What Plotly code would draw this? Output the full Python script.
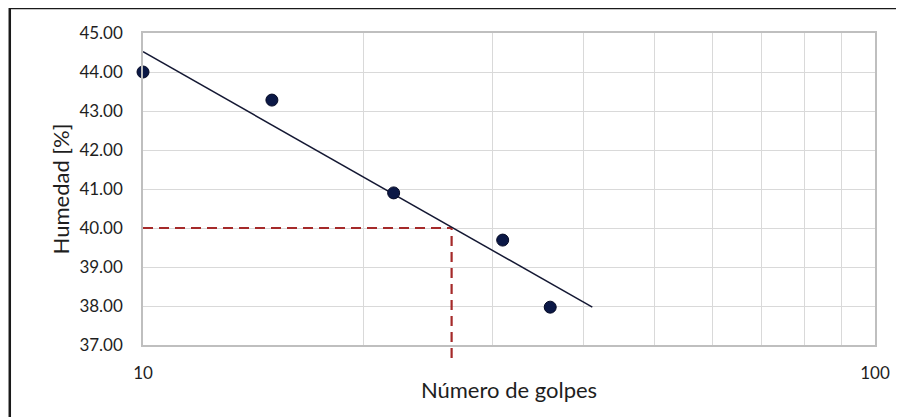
import plotly.graph_objects as go

# puntos del ensayo (número de golpes vs humedad)
golpes = [10, 15, 22, 31, 36]
humedad = [44.00, 43.28, 40.90, 39.69, 37.97]

# línea de tendencia (extremos)
tend_x = [10, 41.1]
tend_y = [44.52, 37.97]

# lectura a 40 % de humedad
lim_x = 26.4
lim_y = 40.0

x_ticks = [10, 20, 30, 40, 50, 60, 70, 80, 90, 100]
x_text = ["10", "", "", "", "", "", "", "", "", "100"]

FONT = "Lato, Open Sans, Arial"
GRID = "#d9d9d9"
NAVY = "#0b1846"
RED = "#a52a2a"
DASH = "10px,6px"

fig = go.Figure()

fig.add_trace(go.Scatter(
    x=[10, lim_x], y=[lim_y, lim_y], mode="lines",
    line=dict(color=RED, width=2.2, dash=DASH), hoverinfo="skip"))

fig.add_trace(go.Scatter(
    x=tend_x, y=tend_y, mode="lines",
    line=dict(color="#141833", width=1.5)))

fig.add_trace(go.Scatter(
    x=golpes, y=humedad, mode="markers", cliponaxis=False,
    marker=dict(color=NAVY, size=12, line=dict(color="#050a25", width=1))))

# vertical discontinua, baja un poco por debajo del eje
fig.add_shape(type="line", xref="x", yref="paper",
              x0=lim_x, x1=lim_x, y0=-0.042, y1=(lim_y - 37) / 8,
              line=dict(color=RED, width=2.2, dash=DASH))

# marco exterior negro
fig.add_shape(type="rect", xref="paper", yref="paper",
              x0=-0.182, x1=1.2, y0=-0.4, y1=1.08,
              line=dict(color="#1a1a1a", width=2.5))

fig.update_xaxes(
    type="log", range=[1, 2], automargin=False,
    tickvals=x_ticks, ticktext=x_text,
    showgrid=True, gridcolor=GRID, gridwidth=1,
    showline=True, linecolor="#bfbfbf", linewidth=1.5, mirror=True,
    ticks="", ticklabelstandoff=12,
    tickfont=dict(family=FONT, size=17, color="#1e1e1e"),
    title=dict(text="Número de golpes", standoff=0,
               font=dict(family=FONT, size=22, color="#1e1e1e")),
    zeroline=False)

fig.update_yaxes(
    range=[37, 45], dtick=1, tickformat=".2f", automargin=False,
    showgrid=True, gridcolor=GRID, gridwidth=1,
    showline=True, linecolor="#bfbfbf", linewidth=1.5, mirror=True,
    ticks="", ticklabelstandoff=15,
    tickfont=dict(family=FONT, size=17, color="#1e1e1e"),
    title=dict(text="Humedad [%]", standoff=4,
               font=dict(family=FONT, size=22, color="#1e1e1e")),
    zeroline=False)

fig.update_layout(
    width=896, height=409,
    margin=dict(l=135, r=29, t=25, b=72),
    plot_bgcolor="white", paper_bgcolor="white",
    showlegend=False,
    font=dict(family=FONT))

fig.write_html("out.html")
